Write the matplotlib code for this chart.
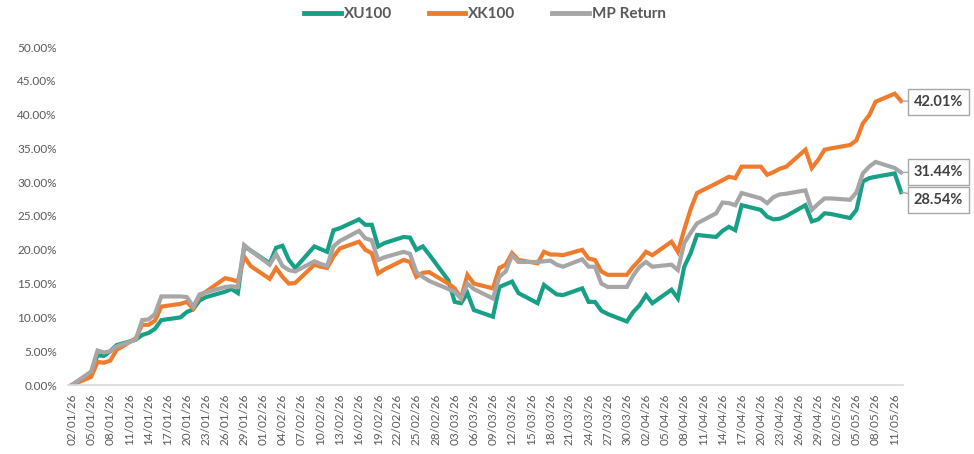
import numpy as np
import pandas as pd
import matplotlib
matplotlib.use("Agg")
import matplotlib.pyplot as plt
import matplotlib.dates as mdates

plt.rcParams['font.family'] = ['Lato', 'DejaVu Sans']

# business days from 02/01/26 to 12/05/26
dates = pd.bdate_range('2026-01-02', '2026-05-12')

# cumulative returns (%)
xu100 = [0, 1.8, 4.4, 4.3, 5.0, 5.9, 6.7, 7.4, 7.7, 8.3, 9.6, 10.0, 10.8, 11.2, 12.5, 13.0, 13.8, 14.2, 13.6, 20.5, 19.9,
         18.0, 20.3, 20.6, 18.5, 17.3, 20.5, 20.1, 19.7, 22.9, 23.2, 24.5, 23.7, 23.7, 20.5, 21.0, 21.9, 21.8, 20.0, 20.5, 19.3,
         15.5, 12.3, 12.1, 13.6, 11.1, 10.1, 14.5, 14.9, 15.3, 13.6, 12.1, 14.8, 14.1, 13.4, 13.3, 14.3, 12.3, 12.3, 11.0, 10.5, 9.4, 10.8,
         11.8, 13.3, 12.1, 14.1, 12.8, 17.5, 19.5, 22.2, 21.9, 22.8, 23.4, 22.9, 26.6, 25.9, 24.9, 24.5, 24.6, 25.0, 26.6, 24.2, 24.5, 25.4,
         25.3, 24.7, 25.9, 30.1, 30.6, 30.8, 31.3, 28.54]
xk100 = [0, 1.2, 3.4, 3.3, 3.6, 5.2, 6.9, 8.9, 8.9, 9.5, 11.6, 12.0, 12.3, 11.3, 13.2, 13.8, 15.8, 15.6, 15.3, 19.0, 17.6,
         15.7, 17.3, 16.0, 15.0, 15.1, 17.8, 17.5, 17.3, 19.0, 20.2, 21.2, 20.0, 19.5, 16.5, 17.1, 18.5, 18.2, 16.0, 16.6, 16.7,
         15.0, 14.3, 12.8, 16.3, 15.0, 14.3, 17.3, 17.8, 19.5, 18.5, 18.0, 19.7, 19.3, 19.3, 19.2, 20.0, 18.7, 18.5, 16.8, 16.3, 16.3, 17.5,
         18.5, 19.7, 19.2, 21.2, 19.7, 23.0, 26.0, 28.4, 29.8, 30.3, 30.8, 30.6, 32.3, 32.3, 31.1, 31.5, 32.0, 32.3, 34.8, 32.1, 33.3, 34.8,
         35.0, 35.5, 36.2, 38.7, 39.9, 41.9, 43.1, 42.01]
mp_return = [0, 2.0, 5.1, 4.8, 5.0, 5.7, 6.7, 9.6, 9.7, 10.5, 13.1, 13.1, 13.0, 11.6, 13.4, 13.7, 14.5, 14.6, 14.5, 20.7, 19.9,
             17.8, 19.4, 17.6, 17.0, 16.8, 18.3, 17.9, 17.6, 20.5, 21.3, 22.8, 21.7, 21.4, 18.5, 18.9, 19.7, 19.4, 16.7, 16.0, 15.4,
             14.2, 13.8, 12.8, 15.0, 14.2, 12.8, 16.0, 16.8, 19.2, 18.2, 18.2, 18.3, 18.4, 17.8, 17.5, 18.6, 17.5, 17.5, 15.0, 14.5, 14.5, 16.2,
             17.5, 18.2, 17.5, 17.8, 17.0, 21.0, 22.5, 23.9, 25.4, 27.0, 26.9, 26.6, 28.4, 27.6, 26.9, 27.8, 28.2, 28.3, 28.8, 25.9, 26.8, 27.6,
             27.6, 27.4, 28.5, 31.3, 32.3, 33.0, 32.1, 31.44]

series = [("XU100", xu100, "#17a085"), ("XK100", xk100, "#ef7b2d"), ("MP Return", mp_return, "#a6a6a6")]
label_y = {"XU100": 200, "XK100": 102, "MP Return": 172}  # box centres, px from top

fig = plt.figure(figsize=(9.74, 4.54), dpi=100)
ax = fig.add_axes([68/974, (454-385)/454, (903-68)/974, (385-47)/454])

for name, vals, col in series:
    ax.plot(dates, vals, color=col, lw=3, label=name, solid_joinstyle='miter')

for name, vals, col in series:
    ax.annotate(f"{vals[-1]:.2f}%", xy=(dates[-1], vals[-1]),
                xytext=(914, 454 - label_y[name]), textcoords='figure pixels',
                ha='left', va='center', fontsize=10.5, fontweight='bold', color='#404040',
                bbox=dict(boxstyle='square,pad=0.4', fc='white', ec='#a6a6a6', lw=1),
                arrowprops=dict(arrowstyle='-', color='#a6a6a6', lw=1, shrinkA=0, shrinkB=0))

start = mdates.date2num(pd.Timestamp('2026-01-02'))
ax.set_xlim(start - 0.63, start + 130.3)
ax.set_ylim(0, 50)

ticks = pd.date_range('2026-01-02', '2026-05-11', freq='3D')
ax.set_xticks(ticks)
ax.set_xticklabels([t.strftime('%d/%m/%y') for t in ticks], rotation=90, fontsize=8.5, color='#595959')
ax.set_yticks(np.arange(0, 51, 5))
ax.set_yticklabels([f"{v:.2f}%" for v in np.arange(0, 51, 5)], fontsize=8.5, color='#595959')
ax.tick_params(length=0, pad=8)
ax.tick_params(axis='x', pad=6)

for s in ['top', 'right', 'left']:
    ax.spines[s].set_visible(False)
ax.spines['bottom'].set_color('#d9d9d9')
ax.spines['bottom'].set_linewidth(1.2)

leg = fig.legend(loc='center', bbox_to_anchor=(485/974, 1 - 14/454), ncol=3, frameon=False,
                 handlelength=2.4, handletextpad=0.2, columnspacing=2.4,
                 prop={'weight': 'bold', 'size': 11})
for t in leg.get_texts():
    t.set_color('#595959')
for h in leg.get_lines():
    h.set_linewidth(3.5)

fig.savefig('out.png', dpi=100)
